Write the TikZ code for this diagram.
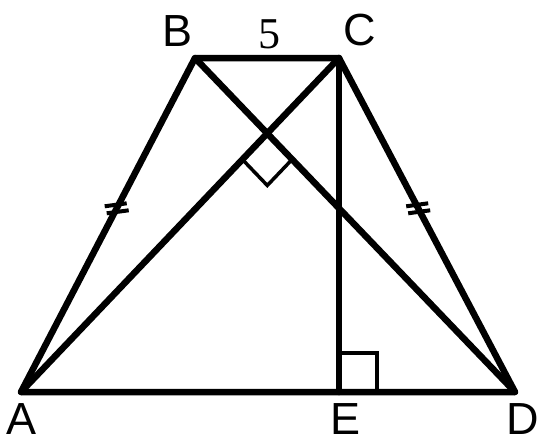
\documentclass[tikz,border=0pt]{standalone}
\usepackage{fontspec}
\setmainfont{Liberation Sans}
\newfontfamily\numfont{Liberation Serif}
\usetikzlibrary{calc}
\begin{document}
\begin{tikzpicture}[x=1pt,y=-1pt,
  edge/.style={line width=6.5pt,line cap=round,line join=round},
  markline/.style={line width=3.5pt,line join=miter},
  tick/.style={line width=4pt},
  lbl/.style={font=\fontsize{45}{45}\selectfont,inner sep=0pt}]
\useasboundingbox (0,0) rectangle (541,445);
\coordinate (A) at (21,392);
\coordinate (B) at (195,58);
\coordinate (C) at (339,58);
\coordinate (D) at (515,392);
\coordinate (E) at (339,392);
\coordinate (O) at (intersection of A--C and B--D);
% right angle marks
\coordinate (P1) at ($(O)!36pt!(A)$);
\coordinate (P3) at ($(O)!36pt!(D)$);
\draw[markline] (P1) -- ($(P1)+(P3)-(O)$) -- (P3);
\draw[markline] ($(E)+(0,-39)$) -- ($(E)+(38,-39)$) -- ($(E)+(38,0)$);
% main lines
\draw[edge] (A) -- (B) -- (C) -- (D) -- cycle;
\draw[edge] (A) -- (C);
\draw[edge] (B) -- (D);
\draw[edge] (C) -- (E);
% tick marks
\coordinate (T1) at ($(B)!0.45!(A)$);
\coordinate (T2) at ($(C)!0.45!(D)$);
\foreach \t in {T1,T2}{
  \draw[tick] ($(\t)+(-12,-2)$) -- ($(\t)+(10,-5)$);
  \draw[tick] ($(\t)+(-10,5)$) -- ($(\t)+(12,2)$);
}
% labels
\node[lbl] (lB) at (178,31) {B};
\node[lbl] (lC) at (360,30) {C};
\node[lbl,font=\fontsize{44}{44}\numfont] (l5) at (269,34) {5};
\node[lbl] (lA) at (21.5,419) {A};
\node[lbl] (lE) at (345.5,419) {E};
\node[lbl] (lD) at (523,419) {D};
\end{tikzpicture}
\end{document}
